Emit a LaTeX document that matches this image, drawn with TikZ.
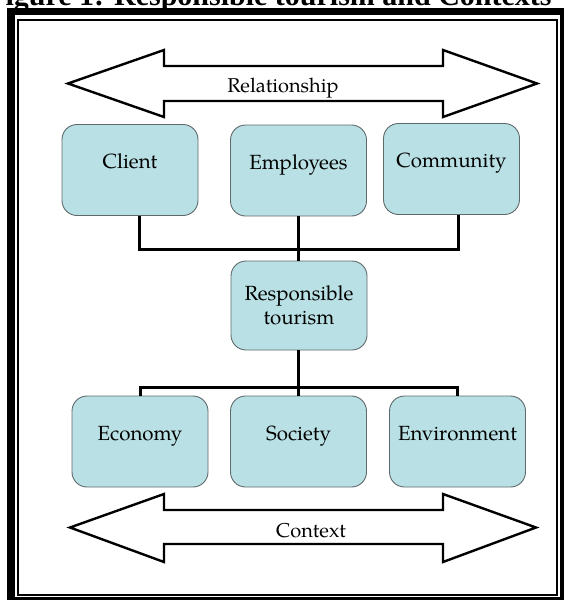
\documentclass[tikz,border=0pt]{standalone}
\usepackage{fontspec}
\setmainfont{TeX Gyre Pagella}
\newfontfamily\titlefont{Liberation Serif}
\begin{document}
\begin{tikzpicture}[x=1pt,y=-1pt,
  box/.style={draw={rgb,255:red,95;green,105;blue,108}, line width=0.9pt,
    fill={rgb,255:red,185;green,224;blue,228}, rounded corners=15pt,
    minimum width=136pt, inner xsep=0pt, inner ysep=0pt,
    font=\fontsize{20.5}{24}\selectfont},
  onerow/.style={box, text height=44pt, text depth=47pt},
  tworow/.style={box, minimum height=89pt, align=center},
  bigarrow/.style={draw=black, line width=2.4pt, fill=white, line join=miter},
  link/.style={draw=black, line width=3pt},
  lbl/.style={font=\fontsize{20}{24}\selectfont, inner sep=0pt}]
\useasboundingbox (0,0) rectangle (563,600);

% heading of the figure, cut by the page edge
\node[anchor=base west, inner sep=0pt, font=\titlefont\bfseries\fontsize{30}{34}\selectfont]
  (title) at (-13,5) {Figure 1: Responsible tourism and Contexts};

% double frame
\draw[line width=7.5pt] (11,11.5) rectangle (563.5,601);
\draw[line width=2pt] (18,19.5) rectangle (557,594.5);

% two-headed block arrows
\draw[bigarrow] (68,83.5) -- (164,50) -- (164,66) -- (443,66) -- (443,50) -- (537,83.5)
  -- (443,117) -- (443,101) -- (164,101) -- (164,117) -- cycle;
\node[lbl] (rel) at (283,88) {Relationship};

\draw[bigarrow] (70,527.5) -- (164,494) -- (164,510) -- (443,510) -- (443,494) -- (536,527.5)
  -- (443,562) -- (443,544) -- (164,544) -- (164,562) -- cycle;
\node[lbl] (ctx) at (311,531) {Context};

% stakeholder boxes
\node[onerow] (client) at (130,170) {Client};
\node[onerow] (employees) at (298.5,170.5) {Employees};
\node[onerow] (community) at (451.5,169) {Community};

% central box
\node[tworow] (rt) at (299,305.5) {Responsible\\tourism};

% context boxes
\node[onerow] (economy) at (140,441.5) {Economy};
\node[onerow] (society) at (298.5,441.5) {Society};
\node[onerow] (environment) at (457.5,441.5) {Environment};

% connectors
\coordinate (topbar) at (0,249.5);
\coordinate (botbar) at (0,387);
\draw[link] (client.south -| 139,0) |- (topbar -| 298,0) -| (community.south -| 458,0);
\draw[link] (employees.south -| 298,0) -- (rt.north -| 298,0);
\draw[link] (rt.south -| 298,0) -- (society.north -| 298,0);
\draw[link] (economy.north -| 140,0) |- (botbar -| 298,0) -| (environment.north -| 457,0);
\end{tikzpicture}
\end{document}
